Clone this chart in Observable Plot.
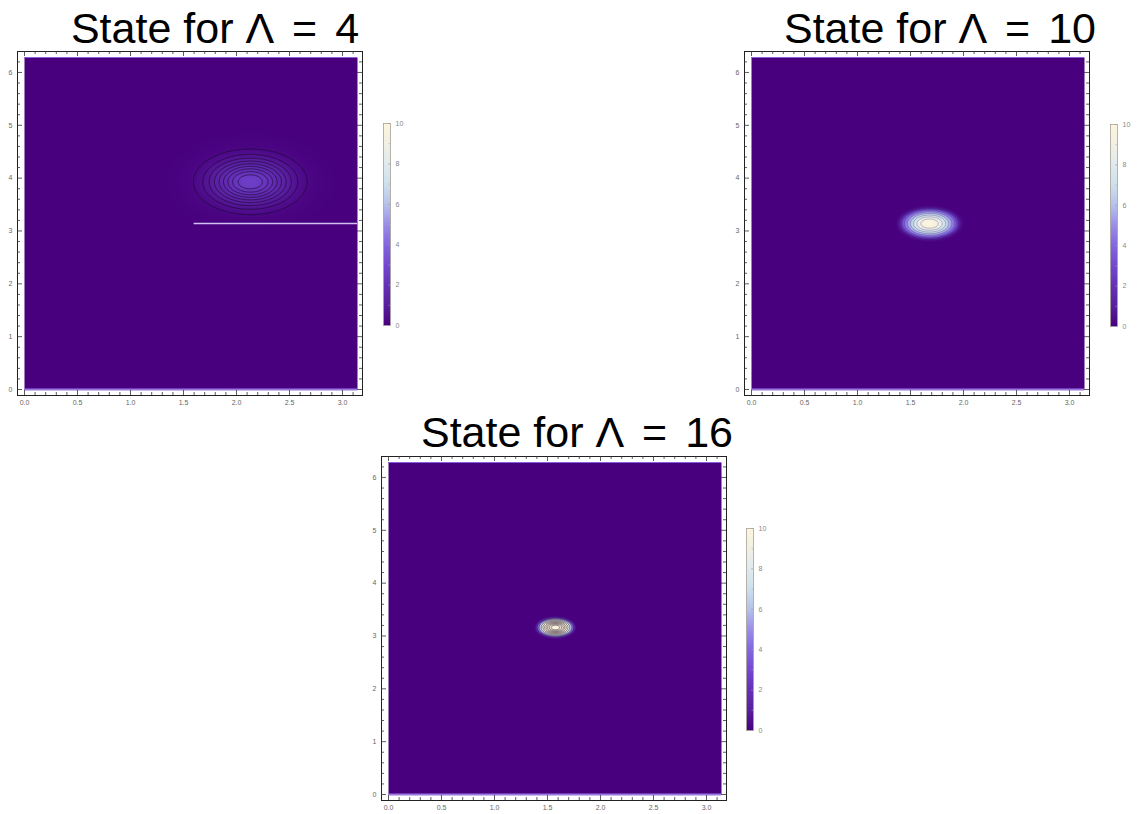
<!DOCTYPE html>
<html><head><meta charset="utf-8">
<script src="https://cdn.jsdelivr.net/npm/d3@7"></script>
<script src="https://cdn.jsdelivr.net/npm/@observablehq/plot@0.6"></script>
<style>
body{margin:0;background:#fff;font-family:"Liberation Sans",Arial,sans-serif;}
#root{position:relative;width:1140px;height:814px;overflow:hidden;background:#fff;}
.title{position:absolute;font-size:43px;color:#000;white-space:nowrap;transform:translateX(-50%);line-height:1;}
.abs{position:absolute;}
.abs svg{display:block;overflow:visible;}
</style></head><body><div id="root"></div>
<script>
// ---- data ----
const lambdas = [4, 10, 16];
const blobX = [2.13, 1.68, 1.575];
const blobY = [3.93, 3.14, 3.16];
const sigmaX = [0.25, 0.18, 0.087];
const sigmaY = [0.29, 0.19, 0.092];
const edgeCut = [99, 1.55, 2.06];   // radius (in sigmas) where the blob ends
const peaks = [2.6, 10, 25];
const contourLevels = [
  [0.26, 0.52, 0.78, 1.04, 1.3, 1.56, 1.82, 2.08, 2.34],
  [1, 2, 3, 4, 5, 6, 7, 8, 9],
  [2.5, 5, 7.5, 10, 12.5, 15, 17.5, 20, 22.5]
];
const seams = [{panel: 0, y: Math.PI, x1: 1.6, x2: Math.PI}];
const edgeBottom = [0];
const edgeTop = [2 * Math.PI];
const xMajor = [0, 0.5, 1, 1.5, 2, 2.5, 3];
const xMinor = [0.1,0.2,0.3,0.4,0.6,0.7,0.8,0.9,1.1,1.2,1.3,1.4,1.6,1.7,1.8,1.9,2.1,2.2,2.3,2.4,2.6,2.7,2.8,2.9,3.1];
const yMajor = [0, 1, 2, 3, 4, 5, 6];
const yMinor = [0.2,0.4,0.6,0.8,1.2,1.4,1.6,1.8,2.2,2.4,2.6,2.8,3.2,3.4,3.6,3.8,4.2,4.4,4.6,4.8,5.2,5.4,5.6,5.8,6.2];
const colorStops = [0, 1, 2, 3, 4, 5, 6, 7, 8, 9, 10];
const colorValues = ["#48007e", "#5a1fa0", "#6530b8", "#7448d2", "#8366e0", "#9a8ee8", "#b5c2ea", "#cde0ec", "#e0eaee", "#f2f0e4", "#fdf5dc"];
const barMajor = [0, 2, 4, 6, 8, 10];
const barMinor = [1, 3, 5, 7, 9];

// ---- layout ----
const frames = [[17, 51], [744, 51], [381, 456]];
const bars = [[383, 123], [1110, 124], [746, 528]];
const titleCenters = [[215, 6.6], [940, 6.6], [577, 410.6]];
const lineColor = ["#1a0a30", "#2a1050", "#20102a"];
const lineOpacity = [0.75, 0.3, 0.6];

const root = document.getElementById("root");
const IW = 345, IH = 344;
const ML = 17, MT = 2, MR = 3, MB = 16;
const colorScale = {type: "linear", domain: colorStops, range: colorValues, clamp: true};

function place(el, left, top) {
  const d = document.createElement("div");
  d.className = "abs";
  d.style.left = left + "px";
  d.style.top = top + "px";
  d.appendChild(el);
  root.appendChild(d);
}

for (let i = 0; i < 3; i++) {
  const f = (x, y) => {
    const q = ((x - blobX[i]) ** 2) / (sigmaX[i] ** 2) + ((y - blobY[i]) ** 2) / (sigmaY[i] ** 2);
    const r = Math.sqrt(q);
    return peaks[i] * Math.exp(-0.5 * q) / (1 + Math.exp((r - edgeCut[i]) / 0.07));
  };
  const ext = {x1: 0, y1: 0, x2: Math.PI, y2: 2 * Math.PI};
  const tickStroke = {stroke: "#333", strokeWidth: 0.8};
  const chart = Plot.plot({
    width: ML + IW + MR, height: MT + IH + MB,
    marginLeft: ML, marginTop: MT, marginRight: MR, marginBottom: MB,
    style: {fontFamily: "Liberation Sans, Arial, sans-serif", background: "transparent"},
    x: {domain: [0, Math.PI], insetLeft: 7, insetRight: 5, label: null},
    y: {domain: [0, 2 * Math.PI], insetTop: 6, insetBottom: 6, label: null},
    color: colorScale,
    marks: [
      Plot.raster({...ext, fill: f, pixelSize: 1}),
      Plot.contour({...ext, value: f, thresholds: contourLevels[i], fill: "none", stroke: lineColor[i], strokeOpacity: lineOpacity[i], strokeWidth: 0.9, pixelSize: 0.5}),
      Plot.ruleY(edgeBottom, {y: d => d, x1: 0, x2: Math.PI, stroke: "#9a78e0", strokeWidth: 2}),
      Plot.ruleY(edgeTop, {y: d => d, x1: 0, x2: Math.PI, stroke: "#8a5ed8", strokeWidth: 1}),
      Plot.ruleY(seams.filter(s => s.panel === i), {y: "y", x1: "x1", x2: "x2", stroke: "#cfc2f2", strokeWidth: 1.6}),
      Plot.frame({stroke: "#222", strokeWidth: 1}),
      Plot.tickX(xMajor, {x: d => d, insetTop: IH - 5, ...tickStroke}),
      Plot.tickX(xMinor, {x: d => d, insetTop: IH - 3, ...tickStroke}),
      Plot.tickX(xMajor, {x: d => d, insetBottom: IH - 5, ...tickStroke}),
      Plot.tickX(xMinor, {x: d => d, insetBottom: IH - 3, ...tickStroke}),
      Plot.tickY(yMajor, {y: d => d, insetRight: IW - 5, ...tickStroke}),
      Plot.tickY(yMinor, {y: d => d, insetRight: IW - 3, ...tickStroke}),
      Plot.tickY(yMajor, {y: d => d, insetLeft: IW - 5, ...tickStroke}),
      Plot.tickY(yMinor, {y: d => d, insetLeft: IW - 3, ...tickStroke}),
      Plot.axisX(xMajor, {anchor: "bottom", tickSize: 0, tickPadding: 5, tickFormat: d3.format(".1f"), fontSize: 7, color: "#666"}),
      Plot.axisY(yMajor, {anchor: "left", tickSize: 0, tickPadding: 5, tickFormat: d => String(d), fontSize: 7, color: "#666"})
    ]
  });
  place(chart, frames[i][0] - ML, frames[i][1] - MT);

  const BW = 7, BH = 202;
  const bar = Plot.plot({
    width: BW + 22, height: BH + 8,
    marginLeft: 0, marginRight: 22, marginTop: 4, marginBottom: 4,
    style: {fontFamily: "Liberation Sans, Arial, sans-serif", background: "transparent"},
    x: {domain: [0, 1], axis: null},
    y: {domain: [0, 10], label: null},
    color: colorScale,
    marks: [
      Plot.raster({x1: 0, x2: 1, y1: 0, y2: 10, fill: (x, y) => y, pixelSize: 1}),
      Plot.frame({stroke: "#a8a29a", strokeWidth: 0.8}),
      Plot.tickY(barMajor, {y: d => d, insetLeft: BW - 2, stroke: "#999", strokeWidth: 0.6}),
      Plot.tickY(barMinor, {y: d => d, insetLeft: BW - 1.5, stroke: "#aaa", strokeWidth: 0.6}),
      Plot.axisY(barMajor, {anchor: "right", tickSize: 0, tickPadding: 5, fontSize: 7, color: "#888"})
    ]
  });
  place(bar, bars[i][0], bars[i][1] - 4);

  const t = document.createElement("div");
  t.className = "title";
  t.style.left = titleCenters[i][0] + "px";
  t.style.top = titleCenters[i][1] + "px";
  t.innerHTML = `State for Λ<span style="margin:0 0.14em"> = </span>${lambdas[i]}`;
  root.appendChild(t);
}
</script>
</body></html>
